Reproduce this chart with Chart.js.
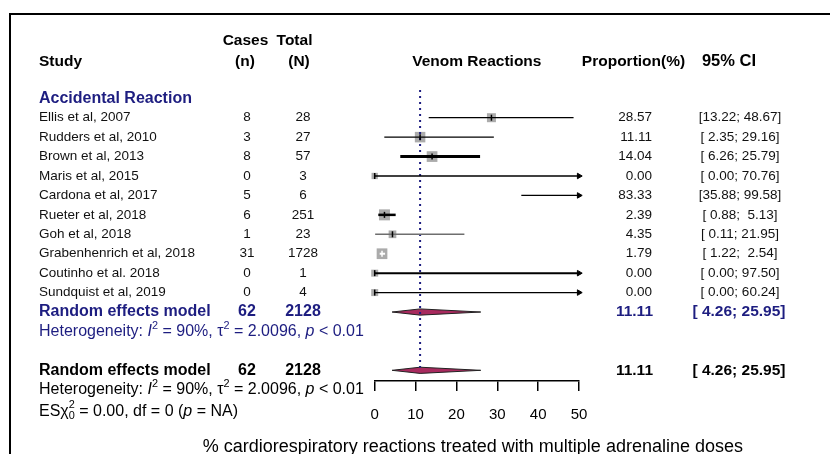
<!DOCTYPE html>
<html>
<head>
<meta charset="utf-8">
<script src="https://cdn.jsdelivr.net/npm/chart.js@4/dist/chart.umd.min.js"></script>
<style>
  html, body { margin: 0; padding: 0; background: #ffffff; }
  #wrap { width: 830px; height: 454px; position: relative; }
</style>
</head>
<body>
<div id="wrap"><canvas id="forest" width="830" height="454"></canvas></div>
<script>
// ---- study data ----
const studies = [
  "Ellis et al, 2007", "Rudders et al, 2010", "Brown et al, 2013", "Maris et al, 2015",
  "Cardona et al, 2017", "Rueter et al, 2018", "Goh et al, 2018",
  "Grabenhenrich et al, 2018", "Coutinho et al. 2018", "Sundquist et al, 2019"
];
const cases = [8, 3, 8, 0, 5, 6, 1, 31, 0, 0];
const totals = [28, 27, 57, 3, 6, 251, 23, 1728, 1, 4];
const proportions = [28.57, 11.11, 14.04, 0.00, 83.33, 2.39, 4.35, 1.79, 0.00, 0.00];
const ciLower = [13.22, 2.35, 6.26, 0.00, 35.88, 0.88, 0.11, 1.22, 0.00, 0.00];
const ciUpper = [48.67, 29.16, 25.79, 70.76, 99.58, 5.13, 21.95, 2.54, 97.50, 60.24];
// random-effects weights (%)
const weights = [10.1, 13.8, 14.3, 5.0, 8.0, 15.1, 7.4, 14.3, 6.1, 6.1];

// ---- pooled result ----
const pooledCases = [62];
const pooledTotal = [2128];
const pooledEstimate = [11.11];
const pooledCI = [4.26, 25.95];

// ---- axis ----
const xTicks = [0, 10, 20, 30, 40, 50];
const xLabel = "% cardiorespiratory reactions treated with multiple adrenaline doses";

// ---- styling ----
const FONT = "'Liberation Sans', Arial, Helvetica, sans-serif";
const NAVY = "#1d1d80";
const SQUARE = "#ababab";
const DIAMOND = "#a82a5e";
const lineColors = ["#000", "#000", "#000", "#000", "#000", "#000", "#6e6e6e", "#ffffff", "#000", "#000"];
const lineWidths = [1.3, 1.3, 3, 1.3, 1.3, 2.5, 1.5, 2, 2, 1.3];

const X_MAX = xTicks[xTicks.length - 1];
const ROW_SUB = studies.length;        // subgroup summary row
const ROW_ALL = studies.length + 3;    // overall summary row
const DIAMOND_H = 0.16;

const datasets = [];

// CI whiskers with arrows where the interval runs past the axis
studies.forEach((s, i) => {
  const end = Math.min(ciUpper[i], X_MAX);
  const arrow = ciUpper[i] > X_MAX;
  datasets.push({
    label: s,
    data: [{ x: ciLower[i], y: i }, { x: end, y: i }],
    showLine: true,
    borderColor: lineColors[i],
    borderWidth: lineWidths[i],
    pointRadius: [0, arrow ? 3.2 : 0],
    pointStyle: "triangle",
    pointRotation: 90,
    pointBackgroundColor: lineColors[i],
    pointBorderColor: lineColors[i],
    pointBorderWidth: 1,
    clip: false,
    order: 2
  });
});

// weight squares
datasets.push({
  label: "squares",
  data: proportions.map((p, i) => ({ x: p, y: i })),
  pointStyle: "rect",
  pointRadius: proportions.map((p, i) => p <= X_MAX ? (2.83 * Math.sqrt(weights[i])) / Math.SQRT2 : 0),
  pointBackgroundColor: SQUARE,
  pointBorderWidth: 0,
  pointBorderColor: SQUARE,
  clip: false,
  order: 5
});

// estimate marks
datasets.push({
  label: "estimates",
  data: proportions.map((p, i) => ({ x: p, y: i })),
  pointStyle: "line",
  pointRotation: 90,
  pointRadius: proportions.map(p => p <= X_MAX ? 3 : 0),
  pointBorderColor: lineColors.map(c => c === "#ffffff" ? "#ffffff" : "#000"),
  pointBorderWidth: 1.5,
  clip: false,
  order: 1
});

// pooled diamonds
[ROW_SUB, ROW_ALL].forEach(r => {
  datasets.push({
    label: "pooled",
    data: [
      { x: pooledCI[0], y: r },
      { x: pooledEstimate[0], y: r - DIAMOND_H },
      { x: pooledCI[1], y: r },
      { x: pooledEstimate[0], y: r + DIAMOND_H },
      { x: pooledCI[0], y: r }
    ],
    showLine: true,
    fill: "shape",
    backgroundColor: DIAMOND,
    borderColor: "#222",
    borderWidth: 1,
    pointRadius: 0,
    tension: 0,
    clip: false,
    order: 4
  });
});

// reference line at the pooled estimate
datasets.push({
  label: "reference",
  data: [{ x: pooledEstimate[0], y: -1.43 }, { x: pooledEstimate[0], y: ROW_ALL - 0.15 }],
  showLine: true,
  borderColor: NAVY,
  borderWidth: 2,
  borderDash: [2, 4],
  pointRadius: 0,
  clip: false,
  order: 3
});

function fmt(v) { return v.toFixed(2); }
function pad5(v) { const s = v.toFixed(2); return s.length < 5 ? " " + s : s; }
function ciText(lo, hi) { return "[" + pad5(lo) + "; " + pad5(hi) + "]"; }

function richText(ctx, parts, x, y, size, color) {
  let cx = x, held = 0;
  ctx.fillStyle = color;
  ctx.textAlign = "left";
  ctx.textBaseline = "middle";
  for (const p of parts) {
    const small = p.sup || p.sub;
    const fs = small ? size * 0.68 : size;
    ctx.font = (p.it ? "italic " : "") + fs + "px " + FONT;
    const dy = p.sup ? -size * 0.36 : p.sub ? size * 0.3 : 0;
    ctx.fillText(p.t, cx, y + dy);
    const w = ctx.measureText(p.t).width;
    if (p.hold) { held = w; }
    else { cx += Math.max(w, held); held = 0; }
  }
}

const tablePlugin = {
  id: "forestTable",
  beforeDraw(chart) {
    const ctx = chart.ctx;
    ctx.save();
    ctx.strokeStyle = "#000";
    ctx.lineWidth = 2;
    ctx.beginPath();
    ctx.moveTo(10, 454);
    ctx.lineTo(10, 14);
    ctx.lineTo(830, 14);
    ctx.stroke();
    ctx.restore();
  },
  afterDraw(chart) {
    const ctx = chart.ctx;
    const ys = chart.scales.y;
    const xs = chart.scales.x;
    const Y = r => ys.getPixelForValue(r);
    const col = { study: 39, cases: 247, total: 303, prop: 652, ci: 740 };
    const plotMid = (xs.left + xs.right) / 2;

    ctx.save();
    ctx.textBaseline = "middle";

    const put = (t, x, y, align, font, color) => {
      ctx.font = font; ctx.fillStyle = color; ctx.textAlign = align; ctx.fillText(t, x, y);
    };
    const hdr = "bold 15.5px " + FONT;
    put("Cases", 245.5, Y(-3.95), "center", hdr, "#000");
    put("Total", 294.5, Y(-3.95), "center", hdr, "#000");
    put("Study", col.study, Y(-2.9), "left", hdr, "#000");
    put("(n)", 245, Y(-2.9), "center", hdr, "#000");
    put("(N)", 299, Y(-2.9), "center", hdr, "#000");
    put("Venom Reactions", plotMid, Y(-2.9), "center", hdr, "#000");
    put("Proportion(%)", 633.5, Y(-2.9), "center", hdr, "#000");
    put("95% CI", 729, Y(-2.9), "center", "bold 16.5px " + FONT, "#000");

    put("Accidental Reaction", col.study, Y(-1), "left", "bold 16px " + FONT, NAVY);

    const reg = "13.5px " + FONT;
    studies.forEach((s, i) => {
      const y = Y(i);
      put(s, col.study, y, "left", reg, "#111");
      put(String(cases[i]), col.cases, y, "center", reg, "#111");
      put(String(totals[i]), col.total, y, "center", reg, "#111");
      put(fmt(proportions[i]), col.prop, y, "right", reg, "#111");
      put(ciText(ciLower[i], ciUpper[i]), col.ci, y, "center", reg, "#111");
    });

    const bold = "bold 16px " + FONT;
    const boldNum = "bold 15.5px " + FONT;
    [[ROW_SUB, NAVY], [ROW_ALL, "#000"]].forEach(([r, c]) => {
      const y = Y(r);
      put("Random effects model", col.study, y, "left", bold, c);
      put(String(pooledCases[0]), col.cases, y, "center", bold, c);
      put(String(pooledTotal[0]), col.total, y, "center", bold, c);
      put(fmt(pooledEstimate[0]), col.prop + 1, y, "right", boldNum, c);
      put(ciText(pooledCI[0], pooledCI[1]), col.ci - 1, y, "center", boldNum, c);
    });

    const het = [
      { t: "Heterogeneity: " }, { t: "I", it: true }, { t: "2", sup: true },
      { t: " = 90%, " }, { t: "\u03c4" }, { t: "2", sup: true },
      { t: " = 2.0096, " }, { t: "p", it: true }, { t: " < 0.01" }
    ];
    richText(ctx, het, col.study, Y(ROW_SUB + 1), 16, NAVY);
    richText(ctx, het, col.study, Y(ROW_ALL + 1), 16, "#000");
    richText(ctx, [
      { t: "ES" }, { t: "\u03c7" }, { t: "2", sup: true, hold: true }, { t: "0", sub: true },
      { t: " = 0.00, df = 0 (" }, { t: "p", it: true }, { t: " = NA)" }
    ], col.study, Y(ROW_ALL + 2) + 2, 16, "#000");

    put(xLabel, plotMid - 4, 447, "center", "18px " + FONT, "#000");
    ctx.restore();
  }
};

new Chart(document.getElementById("forest"), {
  type: "scatter",
  data: { datasets },
  options: {
    responsive: false,
    animation: false,
    devicePixelRatio: 1,
    events: [],
    layout: { padding: { left: 374.7, right: 251, top: 20.55, bottom: 0 } },
    plugins: { legend: { display: false }, tooltip: { enabled: false } },
    scales: {
      x: {
        type: "linear",
        position: "bottom",
        min: 0,
        max: X_MAX,
        afterBuildTicks: s => { s.ticks = xTicks.map(v => ({ value: v })); },
        afterFit: s => { s.height = 73; },
        ticks: { color: "#000", font: { family: FONT, size: 15 }, padding: 15, autoSkip: false, maxRotation: 0 },
        grid: { drawOnChartArea: false, drawTicks: true, tickLength: 10, color: "#000", lineWidth: 1.5 },
        border: { display: true, color: "#000", width: 1.5 }
      },
      y: { type: "linear", min: -5, max: 13.55, reverse: true, display: false }
    }
  },
  plugins: [tablePlugin]
});
</script>
</body>
</html>
